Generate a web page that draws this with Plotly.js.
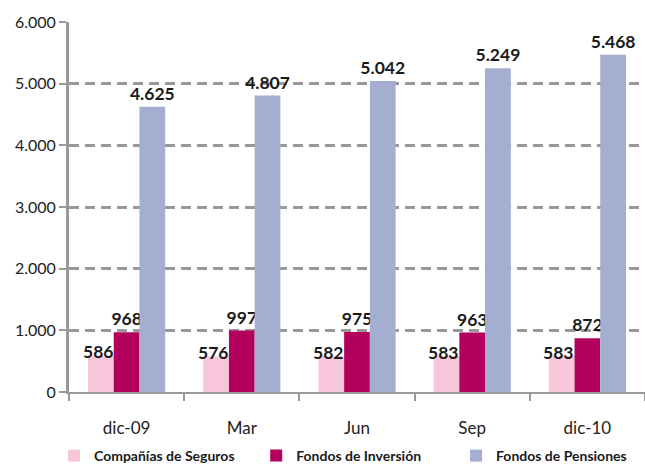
<!DOCTYPE html>
<html><head><meta charset="utf-8">
<script src="https://cdn.plot.ly/plotly-3.0.1.min.js"></script>
<style>html,body{margin:0;padding:0;background:#fff}#chart{width:645px;height:464px}</style>
</head><body><div id="chart"></div>
<script>
const categories = ["dic-09", "Mar", "Jun", "Sep", "dic-10"];
const seriesNames = ["Compañías de Seguros", "Fondos de Inversión", "Fondos de Pensiones"];
const seguros = [586, 576, 582, 583, 583];
const inversion = [968, 997, 975, 963, 872];
const pensiones = [4625, 4807, 5042, 5249, 5468];
const yTickVals = [0, 1000, 2000, 3000, 4000, 5000, 6000];
const yTickText = ["0", "1.000", "2.000", "3.000", "4.000", "5.000", "6.000"];

const colors = ["#F7C6DA", "#B3005C", "#A3AED1"];
const fmt = v => v >= 1000 ? Math.floor(v/1000) + "." + String(v%1000).padStart(3,"0") : String(v);
const font = "Lato, 'Open Sans', sans-serif";
const legendIds = ["legend", "legend2", "legend3"];
const legendX = [-0.026, 0.325, 0.672];
const labelFont = {family: font, size: 17.5, color: "#1a1a1a", weight: "bold"};

const traces = [seguros, inversion, pensiones].map((vals, i) => ({
  type: "bar",
  name: seriesNames[i],
  legend: legendIds[i],
  x: categories,
  y: vals,
  marker: {color: colors[i]},
  text: i === 0 ? null : vals.map(fmt),
  textposition: i === 0 ? "none" : "outside",
  constraintext: "none",
  cliponaxis: false,
  textfont: labelFont,
  hoverinfo: "skip"
}));

// first series labels sit over the bar tops, nudged left (as in the original)
const annotations = categories.map((c, j) => ({
  x: c, y: seguros[j], xref: "x", yref: "y",
  text: fmt(seguros[j]), showarrow: false,
  xshift: -29, yshift: 4, yanchor: "middle",
  font: labelFont
}));

const legendStyle = x => ({orientation: "h", x: x, xanchor: "left", y: -0.173, yanchor: "middle",
  bgcolor: "rgba(0,0,0,0)",
  font: {family: font, size: 14, color: "#1a1a1a", weight: "bold"}, itemwidth: 30});

const layout = {
  width: 645, height: 464,
  margin: {l: 69, r: 0, t: 22, b: 72, autoexpand: false},
  paper_bgcolor: "#fff", plot_bgcolor: "#fff",
  barmode: "group",
  bargap: 0.33,
  bargroupgap: 0,
  showlegend: true,
  annotations: annotations,
  legend: legendStyle(legendX[0]),
  legend2: legendStyle(legendX[1]),
  legend3: legendStyle(legendX[2]),
  xaxis: {
    type: "category",
    showgrid: false,
    showline: true, linecolor: "#999", linewidth: 2,
    ticks: "outside", tickson: "boundaries", ticklen: 7, tickwidth: 2, tickcolor: "#999",
    ticklabelstandoff: 20,
    tickfont: {family: font, size: 17, color: "#222"},
    zeroline: false
  },
  yaxis: {
    range: [0, 6000],
    tickvals: yTickVals, ticktext: yTickText,
    showgrid: true, gridcolor: "#999", gridwidth: 3, griddash: "10px,6px",
    showline: true, linecolor: "#999", linewidth: 3,
    ticks: "outside", ticklen: 7, tickwidth: 2, tickcolor: "#999",
    tickfont: {family: font, size: 16, color: "#222"},
    zeroline: false
  }
};

Plotly.newPlot("chart", traces, layout, {displayModeBar: false, staticPlot: true});
</script></body></html>
